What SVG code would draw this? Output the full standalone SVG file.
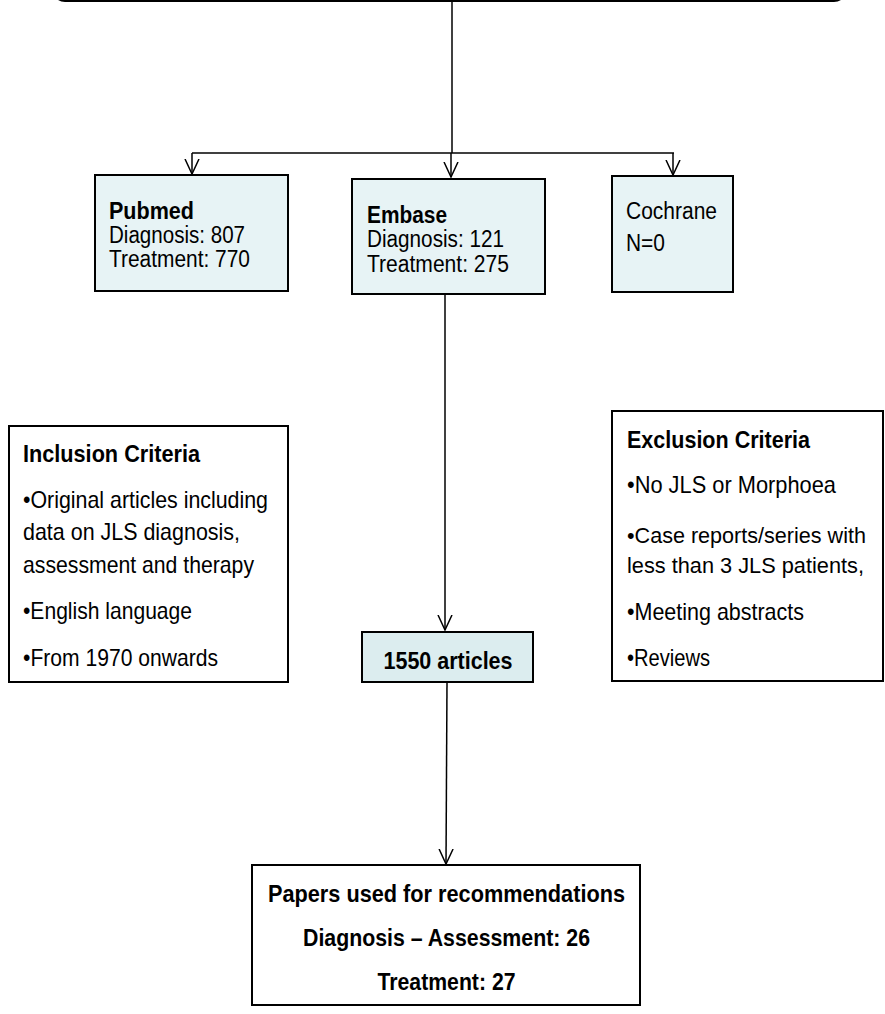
<svg xmlns="http://www.w3.org/2000/svg" width="885" height="1014" viewBox="0 0 885 1014">
<defs>
<style>
.box{stroke:#000;stroke-width:2}
.src{fill:#E7F3F5}
.mid{fill:#DCEDEF}
.wht{fill:#fff}
.t{font-family:"Liberation Sans",Arial,sans-serif;font-size:24px;fill:#000}
.s{font-size:23px}
.n{font-size:22px}
.b{font-weight:bold}
.c{text-anchor:middle}
.ln{stroke:#000;stroke-width:1.5;fill:none}
</style>
<marker id="arr" viewBox="0 0 16 16" refX="15" refY="8" markerWidth="16" markerHeight="16" markerUnits="userSpaceOnUse" orient="auto">
<path d="M0,1 L15,8 L0,15" fill="none" stroke="#000" stroke-width="1.5"/>
</marker>
</defs>
<rect width="885" height="1014" fill="#fff"/>

<g id="top">
<rect class="box wht" x="53" y="-40" width="793" height="41" rx="12"/>
</g>

<g id="connectors">
<line class="ln" x1="452" y1="1" x2="452" y2="153"/>
<line class="ln" x1="192" y1="153" x2="674" y2="153"/>
<line class="ln" x1="192" y1="153" x2="192" y2="174" marker-end="url(#arr)"/>
<line class="ln" x1="451" y1="153" x2="451" y2="177" marker-end="url(#arr)"/>
<line class="ln" x1="673" y1="153" x2="673" y2="175" marker-end="url(#arr)"/>
<line class="ln" x1="445" y1="294" x2="445" y2="630" marker-end="url(#arr)"/>
<line class="ln" x1="447" y1="682" x2="446" y2="864" marker-end="url(#arr)"/>
</g>

<g id="pubmed">
<rect class="box src" x="95" y="175" width="193" height="116"/>
<text class="t s b" x="109" y="219" textLength="85" lengthAdjust="spacingAndGlyphs">Pubmed</text>
<text class="t s" x="109" y="243" textLength="136" lengthAdjust="spacingAndGlyphs">Diagnosis: 807</text>
<text class="t s" x="109" y="267" textLength="141" lengthAdjust="spacingAndGlyphs">Treatment: 770</text>
</g>

<g id="embase">
<rect class="box src" x="352" y="179" width="193" height="115"/>
<text class="t s b" x="367" y="223" textLength="80" lengthAdjust="spacingAndGlyphs">Embase</text>
<text class="t s" x="367" y="247" textLength="137" lengthAdjust="spacingAndGlyphs">Diagnosis: 121</text>
<text class="t s" x="367" y="272" textLength="142" lengthAdjust="spacingAndGlyphs">Treatment: 275</text>
</g>

<g id="cochrane">
<rect class="box src" x="612" y="176" width="121" height="116"/>
<text class="t s" x="626" y="219" textLength="91" lengthAdjust="spacingAndGlyphs">Cochrane</text>
<text class="t s" x="626" y="251" textLength="39" lengthAdjust="spacingAndGlyphs">N=0</text>
</g>

<g id="inclusion">
<rect class="box wht" x="9" y="426" width="279" height="256"/>
<text class="t b" x="23" y="462" textLength="177" lengthAdjust="spacingAndGlyphs">Inclusion Criteria</text>
<text class="t" x="23" y="508" textLength="245" lengthAdjust="spacingAndGlyphs">•Original articles including</text>
<text class="t" x="23" y="540" textLength="217" lengthAdjust="spacingAndGlyphs">data on JLS  diagnosis,</text>
<text class="t" x="23" y="573" textLength="231" lengthAdjust="spacingAndGlyphs">assessment and therapy</text>
<text class="t" x="23" y="619" textLength="169" lengthAdjust="spacingAndGlyphs">•English language</text>
<text class="t" x="23" y="666" textLength="195" lengthAdjust="spacingAndGlyphs">•From 1970  onwards</text>
</g>

<g id="exclusion">
<rect class="box wht" x="612" y="411" width="271" height="270"/>
<text class="t b" x="627" y="448" textLength="183" lengthAdjust="spacingAndGlyphs">Exclusion Criteria</text>
<text class="t" x="627" y="493" textLength="209" lengthAdjust="spacingAndGlyphs">•No JLS  or   Morphoea</text>
<text class="t n" x="627" y="543" textLength="239" lengthAdjust="spacingAndGlyphs">•Case reports/series with</text>
<text class="t n" x="627" y="573" textLength="237" lengthAdjust="spacingAndGlyphs">less than 3 JLS patients,</text>
<text class="t" x="627" y="620" textLength="177" lengthAdjust="spacingAndGlyphs">•Meeting abstracts</text>
<text class="t" x="627" y="666" textLength="83" lengthAdjust="spacingAndGlyphs">•Reviews</text>
</g>

<g id="articles">
<rect class="box mid" x="362" y="632" width="171" height="50"/>
<text class="t b c" x="448" y="669" textLength="129" lengthAdjust="spacingAndGlyphs">1550 articles</text>
</g>

<g id="papers">
<rect class="box wht" x="252" y="865" width="388" height="140"/>
<text class="t b c" x="446.5" y="902" textLength="357" lengthAdjust="spacingAndGlyphs">Papers used for recommendations</text>
<text class="t b c" x="446.5" y="946" textLength="287" lengthAdjust="spacingAndGlyphs">Diagnosis – Assessment:  26</text>
<text class="t b c" x="446.5" y="990" textLength="138" lengthAdjust="spacingAndGlyphs">Treatment: 27</text>
</g>
</svg>
